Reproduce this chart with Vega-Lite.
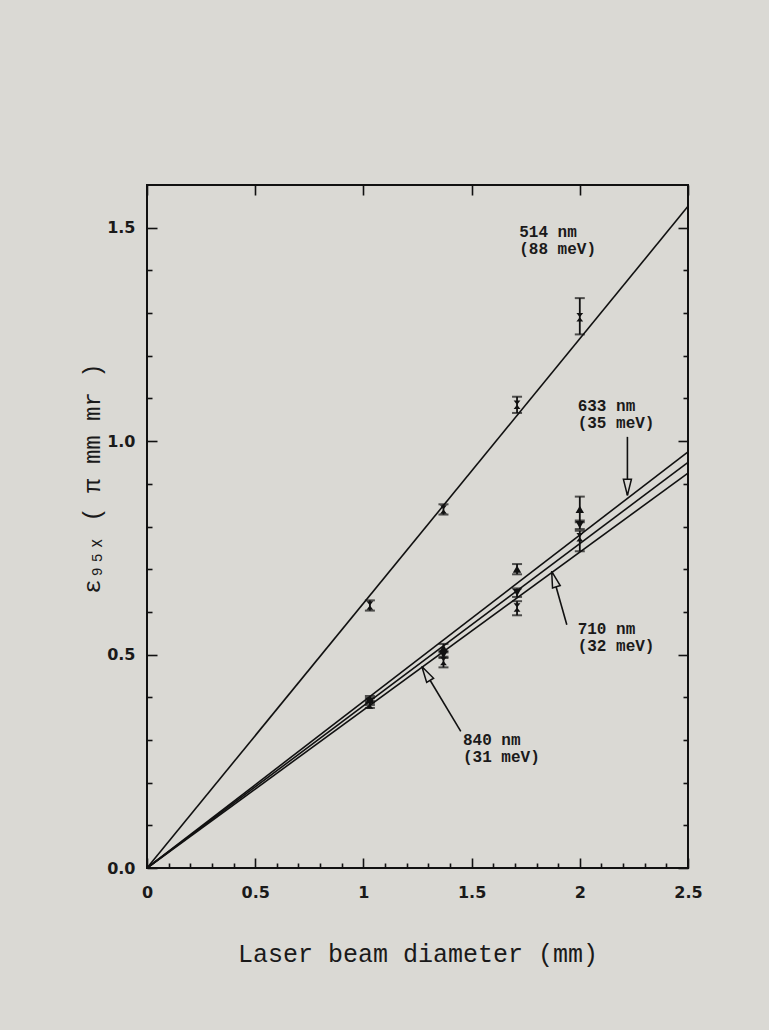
{
  "$schema": "https://vega.github.io/schema/vega-lite/v6.json",
  "width": 541,
  "height": 683,
  "autosize": "none",
  "padding": {"left": 147, "top": 185, "right": 81, "bottom": 162},
  "background": "#dad9d4",
  "config": {
    "view": {"stroke": "#111111", "strokeWidth": 2},
    "axis": {
      "domain": false,
      "grid": false,
      "tickColor": "#111111",
      "tickWidth": 1.6,
      "labelFont": "DejaVu Sans",
      "labelFontWeight": "bold",
      "labelFontSize": 16,
      "labelColor": "#1a1a1a",
      "titleFont": "Liberation Mono",
      "titleFontWeight": "normal",
      "titleColor": "#1a1a1a",
      "labelFlush": false,
      "labelOverlap": false
    }
  },
  "datasets": {
    "lines": [
      {"series": "514", "x": 0, "y": 0}, {"series": "514", "x": 2.5, "y": 1.55},
      {"series": "633", "x": 0, "y": 0}, {"series": "633", "x": 2.5, "y": 0.975},
      {"series": "710", "x": 0, "y": 0}, {"series": "710", "x": 2.5, "y": 0.95},
      {"series": "840", "x": 0, "y": 0}, {"series": "840", "x": 2.5, "y": 0.925}
    ],
    "points": [
      {"series": "514", "x": 1.03, "y": 0.615, "lo": 0.603, "hi": 0.627},
      {"series": "514", "x": 1.37, "y": 0.84, "lo": 0.828, "hi": 0.852},
      {"series": "514", "x": 1.71, "y": 1.085, "lo": 1.066, "hi": 1.104},
      {"series": "514", "x": 2.0, "y": 1.29, "lo": 1.25, "hi": 1.335},
      {"series": "633", "x": 1.03, "y": 0.395, "lo": 0.387, "hi": 0.403},
      {"series": "633", "x": 1.37, "y": 0.515, "lo": 0.505, "hi": 0.525},
      {"series": "633", "x": 1.71, "y": 0.70, "lo": 0.688, "hi": 0.712},
      {"series": "633", "x": 2.0, "y": 0.84, "lo": 0.81, "hi": 0.87},
      {"series": "710", "x": 1.03, "y": 0.39, "lo": 0.382, "hi": 0.398},
      {"series": "710", "x": 1.37, "y": 0.50, "lo": 0.492, "hi": 0.508},
      {"series": "710", "x": 1.71, "y": 0.645, "lo": 0.635, "hi": 0.655},
      {"series": "710", "x": 2.0, "y": 0.804, "lo": 0.794, "hi": 0.814},
      {"series": "840", "x": 1.03, "y": 0.383, "lo": 0.375, "hi": 0.391},
      {"series": "840", "x": 1.37, "y": 0.485, "lo": 0.47, "hi": 0.495},
      {"series": "840", "x": 1.71, "y": 0.61, "lo": 0.592, "hi": 0.625},
      {"series": "840", "x": 2.0, "y": 0.775, "lo": 0.742, "hi": 0.79}
    ],
    "labels": [
      {"series": "514", "x": 1.72, "y": 1.508, "text": "514 nm\n(88 meV)"},
      {"series": "633", "x": 1.99, "y": 1.1, "text": "633 nm\n(35 meV)"},
      {"series": "710", "x": 1.99, "y": 0.578, "text": "710 nm\n(32 meV)"},
      {"series": "840", "x": 1.46, "y": 0.318, "text": "840 nm\n(31 meV)"}
    ],
    "arrows": [
      {"series": "633", "x": 2.22, "y": 1.01, "x2": 2.22, "y2": 0.873},
      {"series": "710", "x": 1.94, "y": 0.57, "x2": 1.87, "y2": 0.695},
      {"series": "840", "x": 1.45, "y": 0.32, "x2": 1.27, "y2": 0.472}
    ]
  },
  "layer": [
    {
      "data": {"name": "lines"},
      "mark": {"type": "line", "color": "#111111", "strokeWidth": 1.6},
      "encoding": {
        "x": {
          "field": "x", "type": "quantitative",
          "scale": {"domain": [0, 2.5], "nice": false, "zero": false},
          "axis": {
            "orient": "bottom",
            "values": [0, 0.1, 0.2, 0.3, 0.4, 0.5, 0.6, 0.7, 0.8, 0.9, 1, 1.1, 1.2, 1.3, 1.4, 1.5, 1.6, 1.7, 1.8, 1.9, 2, 2.1, 2.2, 2.3, 2.4, 2.5],
            "format": "~g",
            "labelExpr": "abs(round(datum.value*2)-datum.value*2)<0.001 ? datum.label : ''",
            "tickSize": {"condition": {"test": "abs(round(datum.value*2)-datum.value*2)<0.001", "value": -10}, "value": -5},
            "labelPadding": 26,
            "title": "Laser beam diameter (mm)",
            "titleFontSize": 25,
            "titlePadding": 36
          }
        },
        "y": {
          "field": "y", "type": "quantitative",
          "scale": {"domain": [0, 1.6], "nice": false, "zero": false},
          "axis": {
            "orient": "left",
            "values": [0, 0.1, 0.2, 0.3, 0.4, 0.5, 0.6, 0.7, 0.8, 0.9, 1, 1.1, 1.2, 1.3, 1.4, 1.5],
            "format": ".1f",
            "labelExpr": "abs(round(datum.value*2)-datum.value*2)<0.001 ? datum.label : ''",
            "tickSize": {"condition": {"test": "abs(round(datum.value*2)-datum.value*2)<0.001", "value": -10}, "value": -5},
            "labelPadding": 22,
            "title": "ε₉₅ₓ ( π mm mr )",
            "titleFontSize": 24,
            "titlePadding": 2,
            "titleY": 293
          }
        },
        "detail": {"field": "series"}
      }
    },
    {
      "data": {"name": "lines"},
      "mark": {"type": "line", "opacity": 0},
      "encoding": {
        "x": {
          "field": "x", "type": "quantitative",
          "scale": {"domain": [0, 2.5], "nice": false, "zero": false},
          "axis": {"orient": "top", "values": [0, 0.5, 1, 1.5, 2, 2.5], "labels": false, "title": null, "tickSize": -10}
        },
        "y": {
          "field": "y", "type": "quantitative",
          "scale": {"domain": [0, 1.6], "nice": false, "zero": false},
          "axis": {
            "orient": "right",
            "values": [0, 0.1, 0.2, 0.3, 0.4, 0.5, 0.6, 0.7, 0.8, 0.9, 1, 1.1, 1.2, 1.3, 1.4, 1.5],
            "labels": false, "title": null,
            "tickSize": {"condition": {"test": "abs(round(datum.value*2)-datum.value*2)<0.001", "value": -10}, "value": -5}
          }
        },
        "detail": {"field": "series"}
      }
    },
    {
      "data": {"name": "points"},
      "mark": {"type": "rule", "color": "#111111", "strokeWidth": 1.8},
      "encoding": {
        "x": {"field": "x", "type": "quantitative", "scale": {"domain": [0, 2.5], "nice": false, "zero": false}, "axis": null},
        "y": {"field": "lo", "type": "quantitative", "scale": {"domain": [0, 1.6], "nice": false, "zero": false}, "axis": null},
        "y2": {"field": "hi"}
      }
    },
    {
      "data": {"name": "points"},
      "mark": {"type": "tick", "orient": "horizontal", "color": "#111111", "size": 10, "thickness": 2},
      "encoding": {
        "x": {"field": "x", "type": "quantitative", "scale": {"domain": [0, 2.5], "nice": false, "zero": false}, "axis": null},
        "y": {"field": "lo", "type": "quantitative", "scale": {"domain": [0, 1.6], "nice": false, "zero": false}, "axis": null}
      }
    },
    {
      "data": {"name": "points"},
      "mark": {"type": "tick", "orient": "horizontal", "color": "#111111", "size": 10, "thickness": 2},
      "encoding": {
        "x": {"field": "x", "type": "quantitative", "scale": {"domain": [0, 2.5], "nice": false, "zero": false}, "axis": null},
        "y": {"field": "hi", "type": "quantitative", "scale": {"domain": [0, 1.6], "nice": false, "zero": false}, "axis": null}
      }
    },
    {
      "data": {"name": "points"},
      "mark": {"type": "point", "filled": true, "color": "#111111", "opacity": 1, "size": 72},
      "encoding": {
        "x": {"field": "x", "type": "quantitative", "scale": {"domain": [0, 2.5], "nice": false, "zero": false}, "axis": null},
        "y": {"field": "y", "type": "quantitative", "scale": {"domain": [0, 1.6], "nice": false, "zero": false}, "axis": null},
        "shape": {
          "field": "series", "type": "nominal",
          "scale": {"domain": ["514", "633", "710", "840"], "range": ["M-0.8,-1L0.8,-1L-0.8,1L0.8,1Z", "triangle-up", "triangle-down", "M-0.8,-1L0.8,-1L-0.8,1L0.8,1Z"]},
          "legend": null
        }
      }
    },
    {
      "data": {"name": "arrows"},
      "mark": {"type": "rule", "color": "#111111", "strokeWidth": 1.6},
      "encoding": {
        "x": {"field": "x", "type": "quantitative", "scale": {"domain": [0, 2.5], "nice": false, "zero": false}, "axis": null},
        "y": {"field": "y", "type": "quantitative", "scale": {"domain": [0, 1.6], "nice": false, "zero": false}, "axis": null},
        "x2": {"field": "x2"},
        "y2": {"field": "y2"}
      }
    },
    {
      "data": {"name": "arrows"},
      "transform": [{"filter": "datum.series == '633'"}],
      "mark": {"type": "point", "shape": "M0,0L-0.6,-2.4L0.6,-2.4Z", "size": 180, "filled": true, "fill": "#dad9d4", "stroke": "#111111", "strokeWidth": 1.5, "opacity": 1},
      "encoding": {
        "x": {"field": "x2", "type": "quantitative", "scale": {"domain": [0, 2.5], "nice": false, "zero": false}, "axis": null},
        "y": {"field": "y2", "type": "quantitative", "scale": {"domain": [0, 1.6], "nice": false, "zero": false}, "axis": null}
      }
    },
    {
      "data": {"name": "arrows"},
      "transform": [{"filter": "datum.series == '710'"}],
      "mark": {"type": "point", "shape": "M0,0L-0.6,2.4L0.6,2.4Z", "size": 180, "angle": -17, "filled": true, "fill": "#dad9d4", "stroke": "#111111", "strokeWidth": 1.5, "opacity": 1},
      "encoding": {
        "x": {"field": "x2", "type": "quantitative", "scale": {"domain": [0, 2.5], "nice": false, "zero": false}, "axis": null},
        "y": {"field": "y2", "type": "quantitative", "scale": {"domain": [0, 1.6], "nice": false, "zero": false}, "axis": null}
      }
    },
    {
      "data": {"name": "arrows"},
      "transform": [{"filter": "datum.series == '840'"}],
      "mark": {"type": "point", "shape": "M0,0L-0.6,2.4L0.6,2.4Z", "size": 180, "angle": -31, "filled": true, "fill": "#dad9d4", "stroke": "#111111", "strokeWidth": 1.5, "opacity": 1},
      "encoding": {
        "x": {"field": "x2", "type": "quantitative", "scale": {"domain": [0, 2.5], "nice": false, "zero": false}, "axis": null},
        "y": {"field": "y2", "type": "quantitative", "scale": {"domain": [0, 1.6], "nice": false, "zero": false}, "axis": null}
      }
    },
    {
      "data": {"name": "labels"},
      "mark": {"type": "text", "align": "left", "baseline": "top", "lineBreak": "\n", "lineHeight": 17, "font": "Liberation Mono", "fontWeight": "bold", "fontSize": 16, "color": "#1a1a1a"},
      "encoding": {
        "x": {"field": "x", "type": "quantitative", "scale": {"domain": [0, 2.5], "nice": false, "zero": false}, "axis": null},
        "y": {"field": "y", "type": "quantitative", "scale": {"domain": [0, 1.6], "nice": false, "zero": false}, "axis": null},
        "text": {"field": "text"}
      }
    }
  ],
  "resolve": {"axis": {"x": "independent", "y": "independent"}}
}
